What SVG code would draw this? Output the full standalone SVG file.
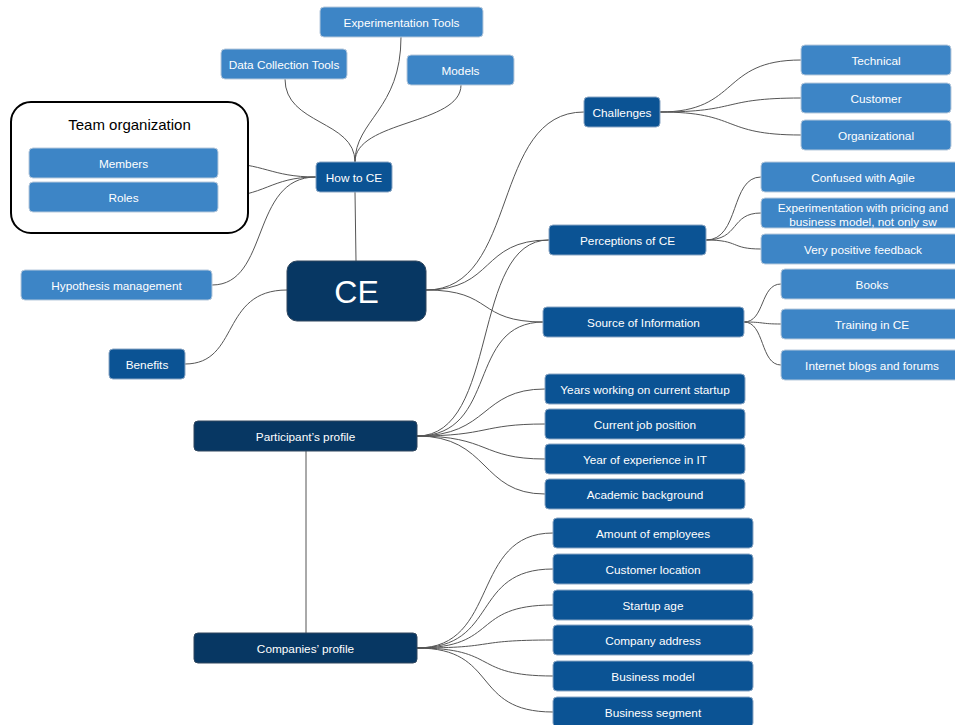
<svg xmlns="http://www.w3.org/2000/svg" width="955" height="725" viewBox="0 0 955 725">
  <style>
    text { font-family: "Liberation Sans", Arial, sans-serif; fill: #ffffff; text-anchor: middle; dominant-baseline: central; font-size: 11.8px; }
    .light { fill: #3d85c6; stroke: #b7c9dc; stroke-width: 1; }
    .mid { fill: #0b5394; stroke: #8aa6c4; stroke-width: 1; }
    .dark { fill: #073763; stroke: #30475f; stroke-width: 1; }
    .links path { fill: none; stroke: #555555; stroke-width: 1; }
    .frame { fill: #ffffff; stroke: #000000; stroke-width: 2; }
  </style>
  <rect width="955" height="725" fill="#ffffff"/>

  <!-- connectors -->
  <g class="links">
    <!-- How to CE branch -->
    <path d="M285 79 C285 125 355 120 355 162"/>
    <path d="M401 37 C401 110 355 120 355 162"/>
    <path d="M461 85 C461 125 355 120 355 162"/>
    <path d="M218 163 C265 163 270 177 316 177"/>
    <path d="M218 197 C265 197 270 177 316 177"/>
    <path d="M212 285 C270 285 250 177 316 177"/>
    <path d="M355 192 L356 261"/>
    <!-- CE left -->
    <path d="M287 290 C220 290 240 364 185 364"/>
    <!-- CE right -->
    <path d="M426 290 C520 290 490 112 584 112"/>
    <path d="M426 290 C495 290 480 240 549 240"/>
    <path d="M426 290 C495 290 475 322 544 322"/>
    <!-- Participant's profile -->
    <path d="M417 436 C500 436 470 240 549 240"/>
    <path d="M417 436 C500 436 465 322 544 322"/>
    <path d="M417 436 C490 436 480 389 545 389"/>
    <path d="M417 436 C490 436 480 424 545 424"/>
    <path d="M417 436 C490 436 480 459 545 459"/>
    <path d="M417 436 C490 436 480 494 545 494"/>
    <path d="M306 451 L306 633"/>
    <!-- Challenges -->
    <path d="M660 112 C740 112 720 60 801 60"/>
    <path d="M660 112 C740 112 720 98 801 98"/>
    <path d="M660 112 C740 112 720 135 801 135"/>
    <!-- Perceptions -->
    <path d="M706 240 C740 240 730 177 761 177"/>
    <path d="M706 240 C740 240 730 213 761 213"/>
    <path d="M706 240 C740 240 730 249 761 249"/>
    <!-- Source of Information -->
    <path d="M744 322 C765 322 760 284 781 284"/>
    <path d="M744 322 C765 322 760 324 781 324"/>
    <path d="M744 322 C765 322 760 365 781 365"/>
    <!-- Companies' profile -->
    <path d="M417 648 C500 648 470 533 553 533"/>
    <path d="M417 648 C500 648 470 569 553 569"/>
    <path d="M417 648 C500 648 470 605 553 605"/>
    <path d="M417 648 C500 648 470 640 553 640"/>
    <path d="M417 648 C500 648 470 676 553 676"/>
    <path d="M417 648 C500 648 470 712 553 712"/>
  </g>

  <!-- Team organization group -->
  <g id="team-organization">
    <rect class="frame" x="11" y="102" width="237" height="131" rx="20"/>
    <text x="129.5" y="124" style="fill:#000000;font-size:15px">Team organization</text>
  </g>
  <g id="members"><rect class="light" x="29" y="148" width="189" height="30" rx="4"/><text x="123.5" y="164">Members</text></g>
  <g id="roles"><rect class="light" x="29" y="182" width="189" height="30" rx="4"/><text x="123.5" y="198">Roles</text></g>

  <!-- How to CE -->
  <g id="experimentation-tools"><rect class="light" x="320" y="7" width="163" height="30" rx="4"/><text x="401.5" y="23">Experimentation Tools</text></g>
  <g id="data-collection-tools"><rect class="light" x="221" y="49" width="126" height="30" rx="4"/><text x="284" y="65">Data Collection Tools</text></g>
  <g id="models"><rect class="light" x="407" y="55" width="107" height="30" rx="4"/><text x="460.5" y="71">Models</text></g>
  <g id="how-to-ce"><rect class="mid" x="316" y="162" width="76" height="30" rx="4"/><text x="354" y="178">How to CE</text></g>
  <g id="hypothesis-management"><rect class="light" x="21" y="270" width="191" height="30" rx="4"/><text x="116.5" y="286">Hypothesis management</text></g>

  <!-- Root -->
  <g id="ce"><rect class="dark" x="287" y="261" width="139" height="60" rx="10"/><text x="356.5" y="292" style="font-size:32px">CE</text></g>
  <g id="benefits"><rect class="mid" x="109" y="349" width="76" height="30" rx="4"/><text x="147" y="365">Benefits</text></g>

  <!-- Challenges -->
  <g id="challenges"><rect class="mid" x="584" y="97" width="76" height="30" rx="4"/><text x="622" y="113">Challenges</text></g>
  <g id="technical"><rect class="light" x="801" y="45" width="150" height="30" rx="4"/><text x="876" y="61">Technical</text></g>
  <g id="customer"><rect class="light" x="801" y="83" width="150" height="30" rx="4"/><text x="876" y="99">Customer</text></g>
  <g id="organizational"><rect class="light" x="801" y="120" width="150" height="30" rx="4"/><text x="876" y="136">Organizational</text></g>

  <!-- Perceptions of CE -->
  <g id="perceptions"><rect class="mid" x="549" y="225" width="157" height="30" rx="4"/><text x="627.5" y="241">Perceptions of CE</text></g>
  <g id="confused-with-agile"><rect class="light" x="761" y="162" width="200" height="30" rx="4"/><text x="863" y="178">Confused with Agile</text></g>
  <g id="pricing-business-model"><rect class="light" x="761" y="198" width="200" height="30" rx="4"/><text x="863" y="207.5">Experimentation with pricing and</text><text x="863" y="221.5">business model, not only sw</text></g>
  <g id="positive-feedback"><rect class="light" x="761" y="234" width="200" height="30" rx="4"/><text x="863" y="250">Very positive feedback</text></g>

  <!-- Source of Information -->
  <g id="source-of-information"><rect class="mid" x="543" y="307" width="201" height="30" rx="4"/><text x="643.5" y="323">Source of Information</text></g>
  <g id="books"><rect class="light" x="781" y="269" width="180" height="30" rx="4"/><text x="872" y="285">Books</text></g>
  <g id="training"><rect class="light" x="781" y="309" width="180" height="30" rx="4"/><text x="872" y="325">Training in CE</text></g>
  <g id="internet"><rect class="light" x="781" y="350" width="180" height="30" rx="4"/><text x="872" y="366">Internet blogs and forums</text></g>

  <!-- Participant's profile -->
  <g id="participants-profile"><rect class="dark" x="194" y="421" width="223" height="30" rx="4"/><text x="305.5" y="437">Participant’s profile</text></g>
  <g id="years-startup"><rect class="mid" x="545" y="374" width="200" height="30" rx="4"/><text x="645" y="390">Years working on current startup</text></g>
  <g id="job-position"><rect class="mid" x="545" y="409" width="200" height="30" rx="4"/><text x="645" y="425">Current job position</text></g>
  <g id="experience-it"><rect class="mid" x="545" y="444" width="200" height="30" rx="4"/><text x="645" y="460">Year of experience in IT</text></g>
  <g id="academic"><rect class="mid" x="545" y="479" width="200" height="30" rx="4"/><text x="645" y="495">Academic background</text></g>

  <!-- Companies' profile -->
  <g id="companies-profile"><rect class="dark" x="194" y="633" width="223" height="30" rx="4"/><text x="305.5" y="649">Companies’ profile</text></g>
  <g id="employees"><rect class="mid" x="553" y="518" width="200" height="30" rx="4"/><text x="653" y="534">Amount of employees</text></g>
  <g id="customer-location"><rect class="mid" x="553" y="554" width="200" height="30" rx="4"/><text x="653" y="570">Customer location</text></g>
  <g id="startup-age"><rect class="mid" x="553" y="590" width="200" height="30" rx="4"/><text x="653" y="606">Startup age</text></g>
  <g id="company-address"><rect class="mid" x="553" y="625" width="200" height="30" rx="4"/><text x="653" y="641">Company address</text></g>
  <g id="business-model"><rect class="mid" x="553" y="661" width="200" height="30" rx="4"/><text x="653" y="677">Business model</text></g>
  <g id="business-segment"><rect class="mid" x="553" y="697" width="200" height="30" rx="4"/><text x="653" y="713">Business segment</text></g>
</svg>
